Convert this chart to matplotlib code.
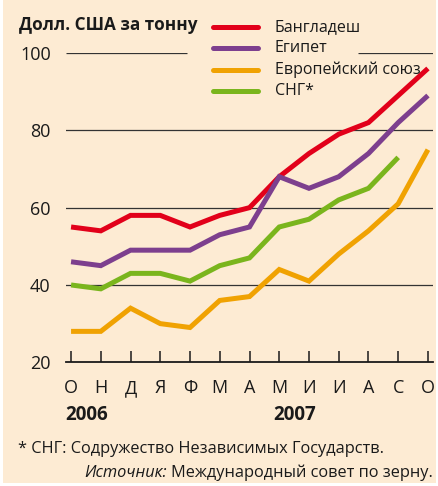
import matplotlib
matplotlib.use("Agg")
import matplotlib.pyplot as plt
from matplotlib.lines import Line2D
from matplotlib.patches import Rectangle

plt.rcParams['font.family'] = ['Open Sans', 'DejaVu Sans']

months = ["О", "Н", "Д", "Я", "Ф", "М", "А", "М", "И", "И", "А", "С", "О"]
years = ["2006", "2007"]
year_pos = [0, 7]

bangladesh = [55, 54, 58, 58, 55, 58, 60, 68, 74, 79, 82, 89, 96]
egypt = [46, 45, 49, 49, 49, 53, 55, 68, 65, 68, 74, 82, 89]
eu = [28, 28, 34, 30, 29, 36, 37, 44, 41, 48, 54, 61, 75]
cis = [40, 39, 43, 43, 41, 45, 47, 55, 57, 62, 65, 73]

series = [
    ("Бангладеш", bangladesh, "#e2001a"),
    ("Египет", egypt, "#7d3f8e"),
    ("Европейский союз", eu, "#f0a202"),
    ("СНГ*", cis, "#7ab51d"),
]

BG = "#fdebd3"
W, H = 438, 486

fig = plt.figure(figsize=(W / 100, H / 100), dpi=100)
fig.patch.set_facecolor("white")
fig.patches.append(Rectangle((3 / W, 3 / H), 433 / W, 1 - 3 / H, transform=fig.transFigure,
                             facecolor=BG, edgecolor="none", zorder=-10))

ax = fig.add_axes([66 / W, 1 - 362.3 / H, 367 / W, 309.3 / H])
ax.set_facecolor("none")
ax.set_xlim(-0.17, 12.17)
ax.set_ylim(20, 100)

# сетка (линия 100 прерывается легендой)
for y in [40, 60, 80]:
    ax.axhline(y, color="#333333", lw=0.9, zorder=1)
ax.hlines(100, -0.17, 3.9, color="#333333", lw=0.9, zorder=1)
ax.hlines(100, 9.65, 12.17, color="#333333", lw=0.9, zorder=1)

for name, vals, col in series:
    ax.plot(range(len(vals)), vals, color=col, lw=3.6, solid_joinstyle="miter",
            solid_capstyle="butt", zorder=3, clip_on=False)

for s in ["top", "right", "left"]:
    ax.spines[s].set_visible(False)
ax.spines["bottom"].set_linewidth(1.3)
ax.spines["bottom"].set_color("#1a1a1a")

ax.set_xticks(range(len(months)))
ax.set_xticklabels(months)
ax.tick_params(axis="x", direction="in", length=8, width=1.1, color="#1a1a1a",
               labelsize=13, pad=12, labelcolor="#1a1a1a")
ax.set_yticks([20, 40, 60, 80, 100])
ax.tick_params(axis="y", length=0, labelsize=13, pad=11, labelcolor="#1a1a1a")

for yr, xp in zip(years, year_pos):
    ax.text(xp - 0.2, -0.17, yr, transform=ax.get_xaxis_transform(), ha="left", va="center",
            fontsize=13.5, fontweight="bold", color="#1a1a1a")

fig.text(19 / W, 1 - 25 / H, "Долл. США за тонну", ha="left", va="center",
         fontsize=12.3, fontweight="bold", color="#1a1a1a")

# легенда
for i, (name, vals, col) in enumerate(series):
    yy = 1 - (27 + 21.3 * i) / H
    fig.add_artist(Line2D([213 / W, 258 / W], [yy, yy], transform=fig.transFigure,
                          color=col, lw=3.6, solid_capstyle="round"))
    fig.text(275 / W, yy, name, ha="left", va="center", fontsize=11.5, color="#1a1a1a")

fig.text(18 / W, 1 - 449 / H, "* СНГ: Содружество Независимых Государств.", ha="left",
         va="center", fontsize=11.8, color="#1a1a1a")
src = fig.text(433 / W, 1 - 473 / H, "Международный совет по зерну.", ha="right",
               va="center", fontsize=11.8, color="#1a1a1a")
fig.canvas.draw()
bb = src.get_window_extent(fig.canvas.get_renderer())
fig.text((bb.x0 - 4) / W, 1 - 473 / H, "Источник:", ha="right", va="center",
         fontsize=11.8, style="italic", color="#1a1a1a")

fig.savefig("out.png", dpi=100, facecolor=fig.get_facecolor())
